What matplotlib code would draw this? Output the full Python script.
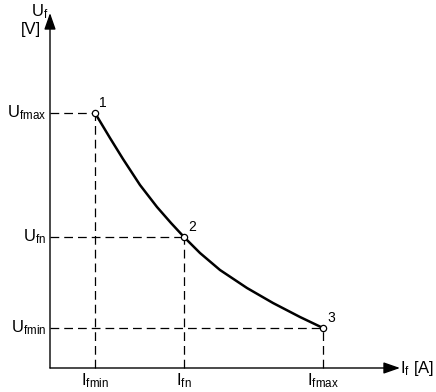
import matplotlib.pyplot as plt

plt.rcParams['font.family'] = ['Liberation Sans', 'DejaVu Sans']
plt.rcParams['mathtext.fontset'] = 'custom'
plt.rcParams['mathtext.rm'] = 'Liberation Sans'
plt.rcParams['mathtext.it'] = 'Liberation Sans'

# characteristic curve (arbitrary units)
curve_i = [45, 60, 73, 90, 107, 121, 134, 150, 170, 197, 223, 250, 273]
curve_u = [255, 230, 209, 183, 161, 145, 131, 115, 98, 80, 65, 51, 40]

# marked operating points
point_i = [45, 134, 273]
point_u = [255, 131, 40]
point_names = ["1", "2", "3"]
i_labels = [r"I$_{\mathrm{fmin}}$", r"I$_{\mathrm{fn}}$", r"I$_{\mathrm{fmax}}$"]
u_labels = [r"U$_{\mathrm{fmax}}$", r"U$_{\mathrm{fn}}$", r"U$_{\mathrm{fmin}}$"]

fig = plt.figure(figsize=(4.36, 3.92), dpi=100)
ax = fig.add_axes([0, 0, 1, 1])
ax.set_xlim(-50, 386)
ax.set_ylim(-24, 368)
ax.axis("off")

# axes with arrow heads
arrow = dict(arrowstyle="-|>,head_length=1.0,head_width=0.35", color="black",
             lw=1, shrinkA=0, shrinkB=0)
ax.annotate("", xy=(0, 355), xytext=(0, 0), arrowprops=arrow)
ax.annotate("", xy=(350, 0), xytext=(0, 0), arrowprops=arrow)

# dashed guide lines
for x, y in zip(point_i, point_u):
    ax.plot([0, x], [y, y], color="black", lw=0.9, dashes=(7, 4))
    ax.plot([x, x], [0, y], color="black", lw=0.9, dashes=(7, 4))

ax.plot(curve_i, curve_u, color="black", lw=1.8, solid_joinstyle="round",
        solid_capstyle="round")
ax.plot(point_i, point_u, "o", ms=4.5, mfc="white", mec="black", mew=0.9)

for x, y, n in zip(point_i, point_u, point_names):
    ax.text(x + 4, y + 3, n, fontsize=10, ha="left", va="bottom")

for x, lab in zip(point_i, i_labels):
    ax.text(x, -3, lab, fontsize=12, ha="center", va="top")
for y, lab in zip(point_u, u_labels):
    ax.text(-4, y, lab, fontsize=12, ha="right", va="center")

ax.text(350, 0, r"I$_{\mathrm{f}}$ [A]", fontsize=12, ha="left", va="center")
ax.text(-10, 356, r"U$_{\mathrm{f}}$", fontsize=12, ha="center", va="center")
ax.text(-19, 339, "[V]", fontsize=12, ha="center", va="center")

fig.savefig("out.png", dpi=100)
